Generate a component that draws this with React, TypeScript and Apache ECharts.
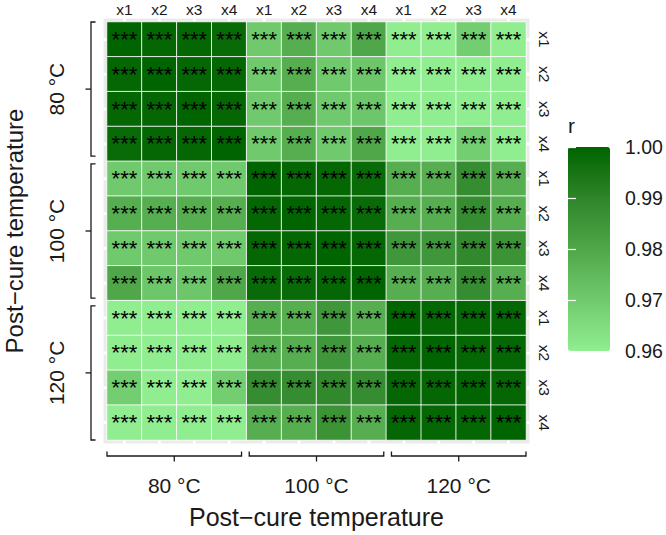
import React, { useEffect, useRef } from "react";
import * as echarts from "echarts";

const FONT = "'Liberation Sans', Arial, Helvetica, sans-serif";
const TEXT = "#1a1a1a";

// ---- categories / labels ----
const temperatures = ["80 °C", "100 °C", "120 °C"];
const variables = ["x1", "x2", "x3", "x4"];
const categories = temperatures.flatMap((t) => variables.map((v) => `${t} ${v}`));
const tickLabels = temperatures.flatMap(() => variables);
const axisTitle = "Post−cure temperature";
const legendTitle = "r";
const legendMin = 0.96;
const legendMax = 1.0;
const legendStep = 0.01;
const significance = "***";
// green gradient (lightgreen -> darkgreen, Lab-like stops)
const colorStops = ["#90EE90", "#70CA6D", "#50A74A", "#2F8529", "#006400"];

// ---- correlation matrix rows (r) ----
const r80x1 = [1.0, 0.999, 0.999, 0.998, 0.97, 0.978, 0.97, 0.98, 0.96, 0.96, 0.969, 0.96];
const r80x2 = [0.999, 1.0, 0.999, 0.999, 0.97, 0.978, 0.97, 0.971, 0.96, 0.96, 0.96, 0.96];
const r80x3 = [0.999, 0.999, 1.0, 0.999, 0.97, 0.978, 0.97, 0.971, 0.96, 0.96, 0.96, 0.96];
const r80x4 = [0.998, 0.999, 0.999, 1.0, 0.97, 0.978, 0.97, 0.98, 0.96, 0.96, 0.969, 0.96];
const r100x1 = [0.97, 0.97, 0.97, 0.97, 1.0, 0.999, 0.999, 0.998, 0.978, 0.978, 0.988, 0.978];
const r100x2 = [0.978, 0.978, 0.978, 0.978, 0.999, 1.0, 0.999, 0.998, 0.978, 0.978, 0.988, 0.978];
const r100x3 = [0.97, 0.97, 0.97, 0.97, 0.999, 0.999, 1.0, 0.999, 0.985, 0.985, 0.989, 0.986];
const r100x4 = [0.98, 0.971, 0.971, 0.98, 0.998, 0.998, 0.999, 1.0, 0.978, 0.978, 0.988, 0.978];
const r120x1 = [0.96, 0.96, 0.96, 0.96, 0.978, 0.978, 0.985, 0.978, 1.0, 0.999, 0.999, 0.999];
const r120x2 = [0.96, 0.96, 0.96, 0.96, 0.978, 0.978, 0.985, 0.978, 0.999, 1.0, 0.999, 0.999];
const r120x3 = [0.969, 0.96, 0.96, 0.969, 0.988, 0.988, 0.989, 0.988, 0.999, 0.999, 1.0, 0.999];
const r120x4 = [0.96, 0.96, 0.96, 0.96, 0.978, 0.978, 0.986, 0.978, 0.999, 0.999, 0.999, 1.0];

const matrix = [r80x1, r80x2, r80x3, r80x4, r100x1, r100x2, r100x3, r100x4, r120x1, r120x2, r120x3, r120x4];

export default function App() {
  const ref = useRef<HTMLDivElement>(null);

  useEffect(() => {
    if (!ref.current) return;
    const chart = echarts.init(ref.current, undefined, { renderer: "svg" });
    const n = categories.length;
    const heatData = matrix.flatMap((row, r) => row.map((v, c) => [c, r, v]));

    const panelExtent = (api: any) => {
      const first = api.coord([0, 0]);
      const last = api.coord([n - 1, n - 1]);
      const size = api.size([1, 1]);
      return { first, last, size };
    };

    const option: any = {
      animation: false,
      backgroundColor: "#ffffff",
      grid: [
        { left: 107, top: 22, width: 419, height: 418 },
        { left: 568, top: 147, width: 42, height: 204 },
      ],
      xAxis: [
        {
          type: "category",
          gridIndex: 0,
          data: categories,
          position: "top",
          axisLine: { show: false },
          axisTick: { show: false },
          splitLine: { show: false },
          axisLabel: {
            formatter: (_v: string, i: number) => tickLabels[i],
            fontSize: 15.5,
            color: TEXT,
            fontFamily: FONT,
            margin: 5,
            interval: 0,
          },
        },
        { type: "value", gridIndex: 1, show: false, min: 0, max: 1 },
      ],
      yAxis: [
        {
          type: "category",
          gridIndex: 0,
          data: categories,
          inverse: true,
          position: "right",
          axisLine: { show: false },
          axisTick: { show: false },
          splitLine: { show: false },
          axisLabel: {
            formatter: (_v: string, i: number) => tickLabels[i],
            fontSize: 15.5,
            color: TEXT,
            fontFamily: FONT,
            rotate: -90,
            margin: 10,
            interval: 0,
          },
        },
        {
          type: "value",
          gridIndex: 1,
          position: "right",
          min: legendMin,
          max: legendMax,
          interval: legendStep,
          z: 10,
          axisLine: { show: false },
          splitLine: { show: false },
          axisTick: { show: true, inside: true, length: 8, lineStyle: { color: "#ffffff", width: 1.2 } },
          axisLabel: {
            formatter: (v: number) => v.toFixed(2),
            fontSize: 19.5,
            color: TEXT,
            fontFamily: FONT,
            margin: 15,
          },
        },
        {
          type: "value",
          gridIndex: 1,
          position: "left",
          min: legendMin,
          max: legendMax,
          interval: legendStep,
          z: 10,
          axisLine: { show: false },
          splitLine: { show: false },
          axisTick: { show: true, inside: true, length: 8, lineStyle: { color: "#ffffff", width: 1.2 } },
          axisLabel: { show: false },
        },
      ],
      visualMap: {
        type: "continuous",
        min: legendMin,
        max: legendMax,
        seriesIndex: 2,
        dimension: 2,
        calculable: false,
        hoverLink: false,
        orient: "vertical",
        left: 568,
        top: 147,
        padding: 0,
        itemWidth: 42,
        itemHeight: 204,
        inRange: { color: colorStops },
      },
      graphic: [
        {
          type: "text",
          x: 568,
          y: 125,
          style: { text: legendTitle, fontSize: 21, fill: TEXT, fontFamily: FONT, align: "left", verticalAlign: "middle" },
        },
        {
          type: "text",
          x: 316.5,
          y: 517,
          style: { text: axisTitle, fontSize: 25, fill: TEXT, fontFamily: FONT, align: "center", verticalAlign: "middle" },
        },
        {
          type: "text",
          x: 14.5,
          y: 231,
          rotation: Math.PI / 2,
          style: { text: axisTitle, fontSize: 24, fill: TEXT, fontFamily: FONT, align: "center", verticalAlign: "middle" },
        },
      ],
      series: [
        {
          // grey panel background + white major grid lines (at category centres)
          type: "custom",
          xAxisIndex: 0,
          yAxisIndex: 0,
          silent: true,
          z: 0,
          data: categories.map((_, i) => [i, i]),
          renderItem: (params: any, api: any) => {
            const { first, last, size } = panelExtent(api);
            const padX = size[0] * 0.6;
            const padY = size[1] * 0.6;
            const x0 = first[0] - padX;
            const x1 = last[0] + padX;
            const y0 = first[1] - padY;
            const y1 = last[1] + padY;
            const c = api.coord([api.value(0), api.value(1)]);
            const children: any[] = [];
            if (params.dataIndex === 0) {
              children.push({ type: "rect", shape: { x: x0, y: y0, width: x1 - x0, height: y1 - y0 }, style: { fill: "#EBEBEB" } });
            }
            children.push({ type: "line", shape: { x1: c[0], y1: y0, x2: c[0], y2: y1 }, style: { stroke: "#ffffff", lineWidth: 3 } });
            children.push({ type: "line", shape: { x1: x0, y1: c[1], x2: x1, y2: c[1] }, style: { stroke: "#ffffff", lineWidth: 3 } });
            return { type: "group", children };
          },
        },
        {
          // nested group brackets and temperature labels (left and bottom)
          type: "custom",
          xAxisIndex: 0,
          yAxisIndex: 0,
          silent: true,
          z: 1,
          data: temperatures.map((_, g) => [g * variables.length, g * variables.length]),
          renderItem: (params: any, api: any) => {
            const g = params.dataIndex;
            const { first, last, size } = panelExtent(api);
            const left = first[0] - size[0] / 2;
            const right = last[0] + size[0] / 2;
            const top = first[1] - size[1] / 2;
            const bottom = last[1] + size[1] / 2;
            const gap = 7.7;
            const k = temperatures.length;
            const bw = (right - left - gap * (k - 1)) / k;
            const bh = (bottom - top - gap * (k - 1)) / k;
            const bx0 = left + g * (bw + gap);
            const bx1 = bx0 + bw;
            const bxm = (bx0 + bx1) / 2;
            const by0 = top + g * (bh + gap);
            const by1 = by0 + bh;
            const bym = (by0 + by1) / 2;
            const yB = bottom + 16;
            const xL = left - 16;
            const stroke = { stroke: "#1a1a1a", lineWidth: 1.3, fill: "none" };
            return {
              type: "group",
              children: [
                { type: "polyline", shape: { points: [[bx0, yB - 4.5], [bx0, yB], [bx1, yB], [bx1, yB - 4.5]] }, style: stroke },
                { type: "line", shape: { x1: bxm, y1: yB, x2: bxm, y2: yB + 5.5 }, style: stroke },
                { type: "polyline", shape: { points: [[xL + 4.5, by0], [xL, by0], [xL, by1], [xL + 4.5, by1]] }, style: stroke },
                { type: "line", shape: { x1: xL, y1: bym, x2: xL - 5.5, y2: bym }, style: stroke },
                {
                  type: "text",
                  x: bxm,
                  y: bottom + 45,
                  style: { text: temperatures[g], fontSize: 21, fill: TEXT, fontFamily: FONT, align: "center", verticalAlign: "middle" },
                },
                {
                  type: "text",
                  x: left - 51,
                  y: bym,
                  rotation: Math.PI / 2,
                  style: { text: temperatures[g], fontSize: 21, fill: TEXT, fontFamily: FONT, align: "center", verticalAlign: "middle" },
                },
              ],
            };
          },
        },
        {
          type: "heatmap",
          xAxisIndex: 0,
          yAxisIndex: 0,
          z: 2,
          data: heatData,
          itemStyle: { borderColor: "rgba(255,255,255,0.85)", borderWidth: 1 },
          label: {
            show: true,
            formatter: () => significance,
            fontSize: 22,
            color: "#000000",
            fontFamily: FONT,
          },
          emphasis: { disabled: true },
        },
      ],
    };

    chart.setOption(option);
    return () => chart.dispose();
  }, []);

  return <div ref={ref} style={{ position: "absolute", left: 0, top: 0, width: 666, height: 535 }} />;
}
